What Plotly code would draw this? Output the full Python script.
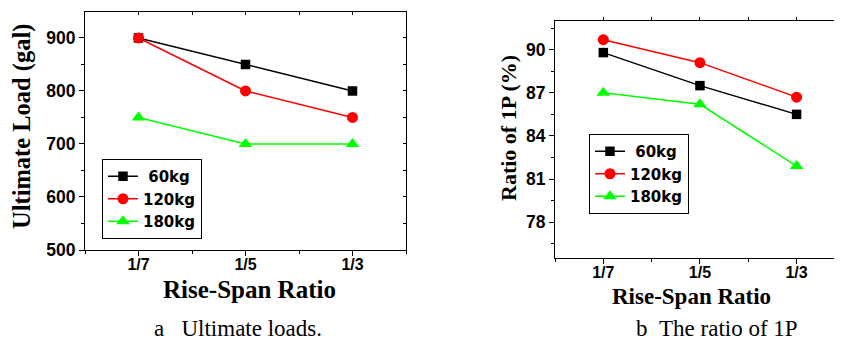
import plotly.graph_objects as go

categories = ["1/7", "1/5", "1/3"]
series_names = [" 60kg", "120kg", "180kg"]
ultimate_60 = [900, 850, 800]
ultimate_120 = [900, 800, 750]
ultimate_180 = [750, 700, 700]
ratio_60 = [89.8, 87.5, 85.5]
ratio_120 = [90.7, 89.1, 86.7]
ratio_180 = [87.0, 86.2, 81.9]

colors = ["#000000", "#FF0000", "#00FF00"]
symbols = ["square", "circle", "triangle-up"]
msizes = [9.5, 11, 12]

# page has an 8px body margin; figure sized to fit the 842x340 window exactly
OFF = 8
W, H = 842 - OFF, 340 - OFF


def px(x):
    return (x - OFF) / W


def py(y):
    return 1 - (y - OFF) / H


xpos = list(range(len(categories)))

fig = go.Figure()
for i, (name, vals) in enumerate(zip(series_names, [ultimate_60, ultimate_120, ultimate_180])):
    fig.add_trace(go.Scatter(x=xpos, y=vals, name=name, mode="lines+markers",
                             line=dict(color=colors[i], width=1.5),
                             marker=dict(symbol=symbols[i], size=msizes[i], color=colors[i]),
                             xaxis="x", yaxis="y", legend="legend"))
for i, (name, vals) in enumerate(zip(series_names, [ratio_60, ratio_120, ratio_180])):
    fig.add_trace(go.Scatter(x=xpos, y=vals, name=name, mode="lines+markers",
                             line=dict(color=colors[i], width=1.5),
                             marker=dict(symbol=symbols[i], size=msizes[i], color=colors[i]),
                             xaxis="x2", yaxis="y2", legend="legend2"))
# invisible carriers for the mirrored tick axes (top / right frame ticks)
fig.add_trace(go.Scatter(x=xpos, y=ultimate_60, mode="markers", marker=dict(opacity=0),
                         showlegend=False, hoverinfo="skip", xaxis="x3", yaxis="y3"))
fig.add_trace(go.Scatter(x=xpos, y=ratio_60, mode="markers", marker=dict(opacity=0),
                         showlegend=False, hoverinfo="skip", xaxis="x4", yaxis="y4"))

xtickfont = dict(family="Liberation Sans", size=16, color="black", weight="bold")
ytickfont = dict(family="Liberation Sans", size=17.5, color="black", weight="bold")


def xax(domain, rng, mirror, anchor):
    return dict(domain=domain, range=rng, tickmode="array", tickvals=xpos, ticktext=categories,
                showline=True, linecolor="black", linewidth=1.2, mirror=mirror, anchor=anchor,
                ticks="outside", ticklen=5, tickcolor="black", tickfont=xtickfont,
                ticklabelstandoff=-5,
                showgrid=False, zeroline=False, automargin=False,
                minor=dict(tickvals=[-0.5, 0.5, 1.5, 2.5], ticks="outside", ticklen=3, tickcolor="black"))


def yax(domain, rng, tickvals, minorvals, mirror, anchor):
    return dict(domain=domain, range=rng, tickmode="array", tickvals=tickvals,
                showline=True, linecolor="black", linewidth=1.2, mirror=mirror,
                ticks="outside", ticklen=5, tickcolor="black", tickfont=ytickfont,
                showgrid=False, zeroline=False, anchor=anchor, automargin=False,
                minor=dict(tickvals=minorvals, ticks="outside", ticklen=3, tickcolor="black"))


def mirror_axis(over, anchor, side, rng, tickvals, ticks):
    return dict(overlaying=over, anchor=anchor, side=side, range=rng, tickmode="array",
                tickvals=tickvals, ticks=ticks, ticklen=3, tickcolor="black",
                showticklabels=False, showline=False, showgrid=False, zeroline=False,
                automargin=False)


legfont = dict(family="DejaVu Sans", size=15, color="black", weight="bold")


def ann(text, x, y, size, family, bold=False, angle=0):
    return dict(text=text, x=px(x), y=py(y), xref="paper", yref="paper",
                showarrow=False, textangle=angle, xanchor="center", yanchor="middle",
                font=dict(family=family, size=size, color="black",
                          weight="bold" if bold else "normal"))


half_steps = [0, 0.5, 1, 1.5, 2]

fig.update_layout(
    width=W, height=H,
    margin=dict(l=0, r=0, t=0, b=0, pad=0),
    paper_bgcolor="white", plot_bgcolor="white",
    showlegend=True,
    xaxis=xax([px(85), px(406)], [-0.5, 2.5], True, "y"),
    yaxis=yax([py(250), py(12)], [500, 949], [500, 600, 700, 800, 900],
              [550, 650, 750, 850, 950], True, "x"),
    xaxis2=xax([px(555), 1.0], [-0.5, 2.47], True, "y2"),
    yaxis2=yax([py(258), py(21)], [75.5, 92], [78, 81, 84, 87, 90],
               [76.5, 79.5, 82.5, 85.5, 88.5, 91.5], False, "x2"),
    xaxis3=mirror_axis("x", "y3", "top", [-0.5, 2.5], half_steps, "inside"),
    yaxis3=mirror_axis("y", "x3", "right", [500, 949],
                       [550, 600, 650, 700, 750, 800, 850, 900], "inside"),
    xaxis4=mirror_axis("x2", "y4", "top", [-0.5, 2.47], half_steps, "outside"),
    yaxis4=mirror_axis("y2", "x4", "right", [75.5, 92], [], ""),
    legend=dict(x=px(102), y=py(159), xanchor="left", yanchor="top",
                bgcolor="white", bordercolor="black", borderwidth=1,
                font=legfont, tracegroupgap=0, itemwidth=30),
    legend2=dict(x=px(589), y=py(134), xanchor="left", yanchor="top",
                 bgcolor="white", bordercolor="black", borderwidth=1,
                 font=legfont, tracegroupgap=0, itemwidth=30),
    annotations=[
        ann("Ultimate Load (gal)", 22, 126, 24.5, "Liberation Serif", True, -90),
        ann("Ratio of 1P (%)", 508, 128, 22, "Liberation Serif", True, -90),
        ann("Rise-Span Ratio", 250, 289, 25, "Liberation Serif", True),
        ann("Rise-Span Ratio", 691, 296, 23, "Liberation Serif", True),
        ann("a&nbsp;&nbsp;&nbsp;Ultimate loads.", 238, 328, 23, "Liberation Serif"),
        ann("b&nbsp;&nbsp;The ratio of 1P", 717, 328, 23, "Liberation Serif"),
    ],
)

fig.write_html("out.html")
